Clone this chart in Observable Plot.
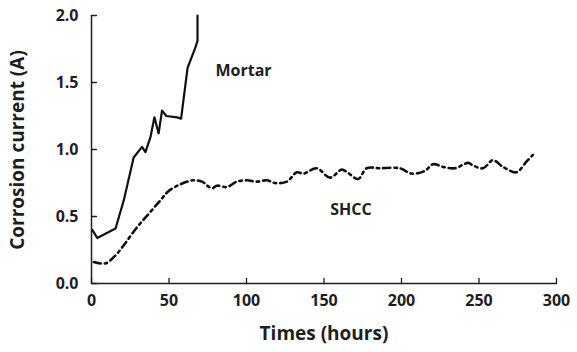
<!DOCTYPE html>
<html>
<head>
<meta charset="utf-8">
<script src="https://cdn.jsdelivr.net/npm/d3@7"></script>
<script src="https://cdn.jsdelivr.net/npm/@observablehq/plot@0.6"></script>
<style>
  html, body { margin: 0; padding: 0; background: #fff; }
  #chart { width: 577px; height: 352px; }
  svg { font-family: "Open Sans", sans-serif; }
</style>
</head>
<body>
<div id="chart"></div>
<script>
// Mortar (solid line)
const mortarTime = [0.5, 3.7, 15.5, 20.8, 27.2, 32.6, 34.8, 38, 40.6, 43.3, 45.5, 48.3, 55.2, 57.8, 62, 67, 68.4, 68.4];
const mortarCurrent = [0.40, 0.34, 0.41, 0.62, 0.94, 1.02, 0.98, 1.09, 1.24, 1.12, 1.29, 1.25, 1.24, 1.23, 1.61, 1.76, 1.81, 2.0];

// SHCC (dash-dot line)
const shccTime = [1.5, 9, 15.5, 19.8, 29.4, 36.9, 44.4, 49.8, 57.3, 65.9, 71.3, 77.7, 80.9, 87.4, 93.8, 100.3, 106.7, 113.1, 118.5, 126, 132.5, 136.7, 145.3, 153.9, 161.4, 165, 172.1, 177.5, 186, 199, 206.5, 215, 220.4, 226.9, 234.4, 243, 246.2, 252.6, 259, 265.5, 274.1, 280.6, 284.8];
const shccCurrent = [0.16, 0.15, 0.21, 0.27, 0.42, 0.52, 0.62, 0.69, 0.74, 0.77, 0.76, 0.71, 0.73, 0.72, 0.76, 0.77, 0.76, 0.77, 0.75, 0.76, 0.83, 0.82, 0.86, 0.79, 0.85, 0.83, 0.78, 0.86, 0.86, 0.86, 0.82, 0.84, 0.89, 0.87, 0.86, 0.90, 0.88, 0.86, 0.92, 0.87, 0.83, 0.91, 0.96];

const xTicks = [0, 50, 100, 150, 200, 250, 300];
const yTicks = [0, 0.5, 1.0, 1.5, 2.0];

const seriesLabels = [
  {name: "Mortar", t: 80, v: 1.59},
  {name: "SHCC", t: 154, v: 0.55}
];

const mortar = mortarTime.map((t, i) => ({t, v: mortarCurrent[i]}));
const shcc = shccTime.map((t, i) => ({t, v: shccCurrent[i]}));

const ink = "#1e1e1e";
const tickShape = {draw(context, l) { context.moveTo(0, 0); context.lineTo(0, -l); }};

const chart = Plot.plot({
  width: 577,
  height: 352,
  marginLeft: 91,
  marginRight: 21,
  marginTop: 15,
  marginBottom: 69,
  x: {domain: [0, 300]},
  y: {domain: [0, 2]},
  style: {fontFamily: "'Open Sans', sans-serif", color: ink, background: "#fff"},
  marks: [
    Plot.axisX({ticks: xTicks, tickSize: 0, tickPadding: 11, tickFormat: d => String(d),
      fontSize: 16, fontWeight: "bold", label: null}),
    Plot.axisY({ticks: yTicks, tickSize: 0, tickPadding: 13, tickFormat: d3.format(".1f"),
      fontSize: 16, fontWeight: "bold", label: null}),
    // inward tick marks
    Plot.vector(xTicks, {x: d => d, y: 0, length: 5, rotate: 0, anchor: "start", shape: tickShape, stroke: ink, strokeWidth: 1.3}),
    Plot.vector(yTicks, {x: 0, y: d => d, length: 5, rotate: 90, anchor: "start", shape: tickShape, stroke: ink, strokeWidth: 1.3}),
    Plot.ruleX([0], {stroke: ink, strokeWidth: 1.5}),
    Plot.ruleY([0], {stroke: ink, strokeWidth: 1.5}),
    Plot.line(mortar, {x: "t", y: "v", stroke: "#111", strokeWidth: 2.2, curve: "linear"}),
    Plot.line(shcc, {x: "t", y: "v", stroke: "#111", strokeWidth: 2.6, strokeDasharray: "7,4,2.5,4", curve: "catmull-rom"}),
    Plot.text(seriesLabels, {x: "t", y: "v", text: "name", textAnchor: "start", fontSize: 16, fontWeight: "bold", fill: ink})
  ]
});

// Axis titles
const svg = d3.select(chart);
svg.append("text")
  .attr("x", 324).attr("y", 340)
  .attr("text-anchor", "middle")
  .attr("font-size", 19).attr("font-weight", "bold")
  .attr("fill", ink)
  .text("Times (hours)");
svg.append("text")
  .attr("transform", "translate(24,150) rotate(-90)")
  .attr("text-anchor", "middle")
  .attr("font-size", 19).attr("font-weight", "bold")
  .attr("fill", ink)
  .text("Corrosion current (A)");

document.getElementById("chart").appendChild(chart);
</script>
</body>
</html>
